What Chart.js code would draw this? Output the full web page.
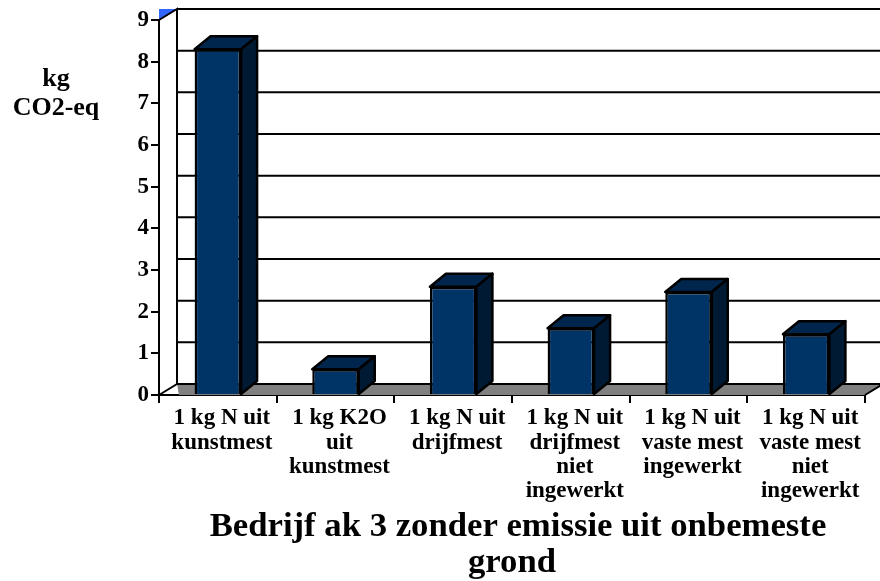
<!DOCTYPE html>
<html>
<head>
<meta charset="utf-8">
<style>
  body { margin: 0; background: #fff; }
  #wrap { width: 880px; height: 581px; position: relative; }
</style>
<script src="https://cdn.jsdelivr.net/npm/chart.js@4/dist/chart.umd.min.js"></script>
</head>
<body>
<div id="wrap"><canvas id="chart" width="880" height="581"></canvas></div>
<script>
// categories and values
const categories = [
    ["1 kg N uit", "kunstmest"],
    ["1 kg K2O", "uit", "kunstmest"],
    ["1 kg N uit", "drijfmest"],
    ["1 kg N uit", "drijfmest", "niet", "ingewerkt"],
    ["1 kg N uit", "vaste mest", "ingewerkt"],
    ["1 kg N uit", "vaste mest", "niet", "ingewerkt"],
];
const values = [8.3, 0.62, 2.6, 1.6, 2.47, 1.46];
const yTicks = [0, 1, 2, 3, 4, 5, 6, 7, 8, 9];
const yTitle = ["kg", "CO2-eq"];
const chartTitle = ["Bedrijf ak 3 zonder emissie uit onbemeste", "grond"];

const serif = "'Liberation Serif', 'Times New Roman', serif";
const wallDx = 18, wallDy = -11;   // depth of the walls
const barDx = 16, barDy = -13;     // depth of the bars

// walls, floor and gridlines behind the bars
const wallPlugin = {
    id: 'wall',
    beforeDatasetsDraw(chart) {
        const c = chart.ctx, y = chart.scales.y, a = chart.chartArea;
        const y0 = y.getPixelForValue(0), y9 = y.getPixelForValue(9);
        const bx = a.left + wallDx, rx = a.right + wallDx;
        c.save();
        c.fillStyle = '#3366ff';
        c.beginPath();
        c.moveTo(a.left, y9);
        c.lineTo(a.left, y9 + wallDy);
        c.lineTo(bx, y9 + wallDy);
        c.closePath();
        c.fill();

        c.fillStyle = '#808080';
        c.beginPath();
        c.moveTo(bx, y0 + wallDy);
        c.lineTo(rx, y0 + wallDy);
        c.lineTo(a.right, y0);
        c.lineTo(bx + 2, y0);
        c.closePath();
        c.fill();

        c.strokeStyle = '#000';
        c.lineWidth = 2;
        yTicks.forEach(v => {
            const p = y.getPixelForValue(v) + wallDy;
            c.beginPath();
            c.moveTo(bx, p);
            c.lineTo(rx, p);
            c.stroke();
        });
        c.beginPath();
        c.moveTo(a.left, y9);
        c.lineTo(bx, y9 + wallDy);
        c.lineTo(bx, y0 + wallDy);
        c.lineTo(a.left, y0);
        c.moveTo(a.right, y0);
        c.lineTo(rx, y0 + wallDy);
        c.stroke();
        c.restore();
    },
    // top and side of every bar
    afterDatasetsDraw(chart) {
        const c = chart.ctx;
        c.save();
        c.strokeStyle = '#000';
        c.lineWidth = 2.5;
        c.lineJoin = 'round';
        chart.getDatasetMeta(0).data.forEach(bar => {
            const l = bar.x - bar.width / 2, r = bar.x + bar.width / 2;
            const t = bar.y, b = bar.base;
            c.fillStyle = '#00264d';
            c.beginPath();
            c.moveTo(l, t);
            c.lineTo(l + barDx, t + barDy);
            c.lineTo(r + barDx, t + barDy);
            c.lineTo(r, t);
            c.closePath();
            c.fill();
            c.stroke();
            c.fillStyle = '#001a33';
            c.beginPath();
            c.moveTo(r, t);
            c.lineTo(r + barDx, t + barDy);
            c.lineTo(r + barDx, b + barDy);
            c.lineTo(r, b);
            c.closePath();
            c.fill();
            c.stroke();
        });
        c.restore();
    },
    // axis title and chart title
    afterDraw(chart) {
        const c = chart.ctx;
        c.save();
        c.fillStyle = '#000';
        c.textAlign = 'center';
        c.textBaseline = 'alphabetic';
        c.font = "bold 26px " + serif;
        c.fillText(yTitle[0], 56, 86);
        c.fillText(yTitle[1], 56, 115);
        c.font = "bold 34.7px " + serif;
        c.fillText(chartTitle[0], 518, 536);
        c.fillText(chartTitle[1], 512, 572);
        c.restore();
    }
};

const chart = new Chart(document.getElementById('chart'), {
    type: 'bar',
    data: {
        labels: categories,
        datasets: [{
            data: values,
            backgroundColor: '#003366',
            borderColor: '#000',
            borderWidth: 2.5,
            barPercentage: 0.395,
            categoryPercentage: 1,
        }]
    },
    options: {
        responsive: false,
        animation: false,
        layout: { padding: { left: 0, top: 20, right: 15, bottom: 0 } },
        plugins: { legend: { display: false }, tooltip: { enabled: false } },
        scales: {
            x: {
                afterFit(s) { s.height = 186; },
                grid: { drawOnChartArea: false, color: '#000', lineWidth: 2, tickLength: 8 },
                border: { color: '#000', width: 2 },
                ticks: {
                    color: '#000', maxRotation: 0, minRotation: 0, autoSkip: false, padding: 3, labelOffset: 4,
                    font: { family: serif, weight: 'bold', size: 23, lineHeight: 1.06 },
                },
            },
            y: {
                min: 0, max: 9,
                afterFit(s) { s.width = 159; },
                grid: { drawOnChartArea: false, color: '#000', lineWidth: 2, tickLength: 8 },
                border: { color: '#000', width: 2 },
                ticks: {
                    color: '#000', stepSize: 1, padding: 2,
                    font: { family: serif, weight: 'bold', size: 23 },
                },
            },
        },
    },
    plugins: [wallPlugin],
});
</script>
</body>
</html>
